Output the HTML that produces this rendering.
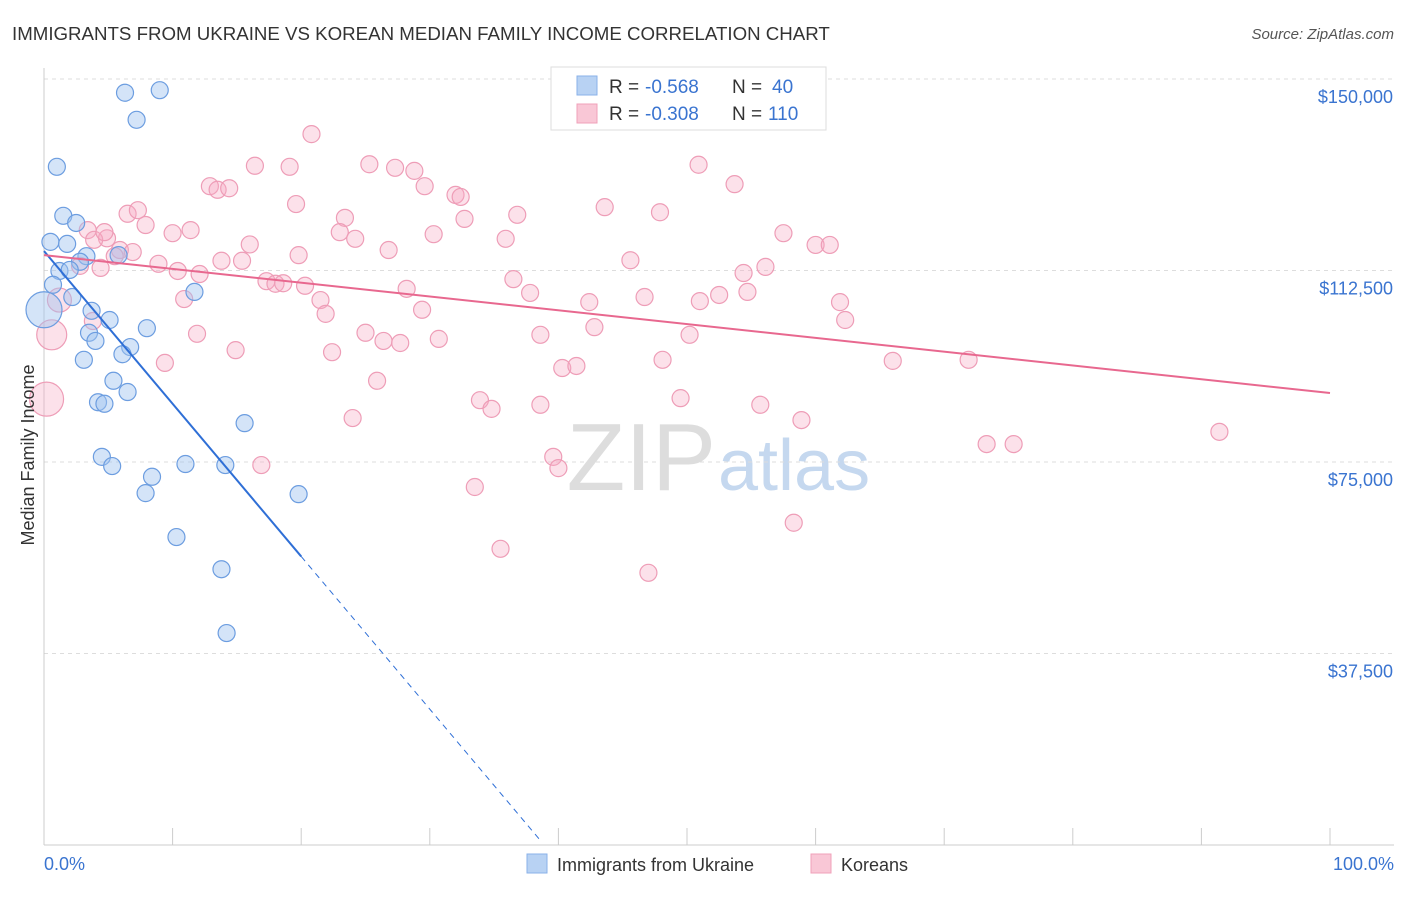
<!DOCTYPE html>
<html><head><meta charset="utf-8"><style>
body{margin:0;background:#fff;font-family:"Liberation Sans",sans-serif;}
svg text{font-family:"Liberation Sans",sans-serif;}
</style></head><body>
<svg id="chart" width="1406" height="892" viewBox="0 0 1406 892">
<text x="12" y="40" font-size="18.7" fill="#333">IMMIGRANTS FROM UKRAINE VS KOREAN MEDIAN FAMILY INCOME CORRELATION CHART</text>
<text x="1394" y="39" font-size="15" fill="#555" text-anchor="end" font-style="italic">Source: ZipAtlas.com</text>
<text x="716" y="490" font-size="96" fill="#ddd" text-anchor="end" font-family="Liberation Serif">ZIP</text>
<text x="718" y="490" font-size="72" fill="#c5d8ef">atlas</text>
<g id="grid"></g><g id="axes"></g><g id="pts"></g><g id="trend"></g>
<text transform="translate(34,455) rotate(-90)" font-size="18" fill="#333" text-anchor="middle">Median Family Income</text>
<text x="44" y="870" font-size="18" fill="#3a74d0">0.0%</text>
<text x="1394" y="870" font-size="18" fill="#3a74d0" text-anchor="end">100.0%</text>
<g>
<rect x="551" y="67" width="275" height="63" fill="#fff" stroke="#ddd"/>
<rect x="577" y="76" width="20" height="19" fill="#b8d2f3" stroke="#8ab1e8"/>
<rect x="577" y="104" width="20" height="19" fill="#f9c7d6" stroke="#f0a0b9"/>
<text x="609" y="93" font-size="19" fill="#333">R =</text>
<text x="645" y="93" font-size="19" fill="#3a74d0">-0.568</text>
<text x="732" y="93" font-size="19" fill="#333">N =</text>
<text x="772" y="93" font-size="19" fill="#3a74d0">40</text>
<text x="609" y="120" font-size="19" fill="#333">R =</text>
<text x="645" y="120" font-size="19" fill="#3a74d0">-0.308</text>
<text x="732" y="120" font-size="19" fill="#333">N =</text>
<text x="768" y="120" font-size="19" fill="#3a74d0">110</text>
</g>
<g>
<rect x="527" y="854" width="20" height="19" fill="#b8d2f3" stroke="#8ab1e8"/>
<text x="557" y="871" font-size="18" fill="#333">Immigrants from Ukraine</text>
<rect x="811" y="854" width="20" height="19" fill="#f9c7d6" stroke="#f0a0b9"/>
<text x="841" y="871" font-size="18" fill="#333">Koreans</text>
</g>
</svg>
<script>
const yTicks=[37500,75000,112500,150000];
const yTickLabels=["$37,500","$75,000","$112,500","$150,000"];
const xTicks=[0,10,20,30,40,50,60,70,80,90,100];
const blueX=[1.0,6.3,9.0,7.2,1.5,2.5,0.5,1.8,3.3,2.8,5.8,1.2,2.0,0.7,2.2,11.7,3.7,5.1,8.0,3.5,4.0,6.7,6.1,3.1,5.4,6.5,4.2,4.7,15.6,4.5,5.3,8.4,11.0,14.1,7.9,19.8,10.3,13.8,14.2,0.0];
const blueY=[132.8,147.3,147.8,142.0,123.2,121.8,118.1,117.7,115.3,114.2,115.5,112.4,112.6,109.7,107.3,108.3,104.6,102.8,101.2,100.3,98.7,97.5,96.1,95.0,90.9,88.7,86.7,86.4,82.6,76.0,74.2,72.1,74.6,74.4,68.9,68.7,60.3,54.0,41.5,104.8];
const blueR=[8.5,8.5,8.5,8.5,8.5,8.5,8.5,8.5,8.5,8.5,8.5,8.5,8.5,8.5,8.5,8.5,8.5,8.5,8.5,8.5,8.5,8.5,8.5,8.5,8.5,8.5,8.5,8.5,8.5,8.5,8.5,8.5,8.5,8.5,8.5,8.5,8.5,8.5,8.5,18];
const pinkX=[20.8,16.4,19.1,25.3,27.3,28.8,50.9,53.7,12.9,13.5,14.4,29.6,32.0,32.4,19.6,43.6,47.9,6.5,7.3,23.4,32.7,36.8,3.4,7.9,10.0,11.4,23.0,4.9,24.2,30.3,35.9,57.5,60.0,61.1,16.0,5.9,6.9,26.8,5.5,8.9,13.8,15.4,19.8,45.6,10.4,12.1,54.4,56.1,4.4,2.8,36.5,17.3,18.0,18.6,20.3,28.2,37.8,52.5,54.7,46.7,42.4,51.0,61.9,10.9,21.5,21.9,29.4,62.3,3.8,42.8,50.2,11.9,25.0,26.4,27.7,30.7,38.6,14.9,22.4,48.1,66.0,71.9,9.4,40.3,41.4,25.9,33.9,34.8,38.6,49.5,55.7,24.0,58.9,73.3,75.4,91.4,39.6,40.0,16.9,33.5,58.3,35.5,47.0,51.9,3.9,4.7,0.6,0.2,1.2];
const pinkY=[139.2,133.0,132.8,133.3,132.6,132.0,133.2,129.4,129.0,128.3,128.6,129.0,127.3,126.9,125.5,124.9,123.9,123.6,124.3,122.8,122.6,123.4,120.4,121.4,119.8,120.4,120.0,118.8,118.7,119.6,118.7,119.8,117.5,117.5,117.6,116.5,116.1,116.5,115.3,113.8,114.4,114.4,115.5,114.5,112.4,111.8,112.0,113.2,113.0,113.4,110.8,110.4,109.9,110.0,109.5,108.9,108.1,107.7,108.3,107.3,106.3,106.5,106.3,106.9,106.7,104.0,104.8,102.8,102.6,101.4,99.9,100.1,100.3,98.7,98.3,99.1,99.9,96.9,96.5,95.0,94.8,95.0,94.4,93.4,93.8,90.9,87.1,85.4,86.2,87.5,86.2,83.6,83.2,78.5,78.5,80.9,76.0,73.8,74.4,70.1,63.1,58.0,53.3,146.5,118.5,120.0,99.9,87.3,106.7];
const pinkR=pinkX.map((v,i)=>i>=pinkX.length-3?[15,17,12][i-(pinkX.length-3)]:8.5);
const blueTrend=[116.3,-2.99,20,38.6];
const pinkTrend=[115.5,-0.27];
const X0=44,X1=1330,YB=845,PX_PER_K=5.107;
const sx=v=>X0+(X1-X0)*v/100;
const sy=k=>YB-k*PX_PER_K;
const NS="http://www.w3.org/2000/svg";
function mk(tag,parent,attrs){const e=document.createElementNS(NS,tag);for(const k in attrs)e.setAttribute(k,attrs[k]);document.getElementById(parent).appendChild(e);return e;}
yTicks.forEach((t,i)=>{
 const l=mk('line','grid',{x1:44,x2:1394,y1:sy(t/1000),y2:sy(t/1000),stroke:'#ddd','stroke-dasharray':'4,4'});
 
 
 const tx=mk('text','grid',{x:1393,y:sy(t/1000)+24,'font-size':18,fill:'#3a74d0','text-anchor':'end'});
 tx.textContent=yTickLabels[i];
 
 
});
const tg=mk('line','grid',{x1:44,x2:1394,y1:79,y2:79,stroke:'#ddd','stroke-dasharray':'4,4'});


const ya=mk('line','axes',{x1:44,x2:44,y1:68,y2:845,stroke:'#ccc'});


const xa=mk('line','axes',{x1:44,x2:1394,y1:845,y2:845,stroke:'#ccc'});


xTicks.forEach(t=>{
 const l=mk('line','axes',{x1:sx(t),x2:sx(t),y1:828,y2:845,stroke:'#ccc'});
 
 
});
pinkX.forEach((v,i)=>{
 const c=mk('circle','pts',{cx:sx(v),cy:sy(pinkY[i]),r:pinkR[i],fill:'rgba(246,170,195,0.35)',stroke:'#ee9db7','stroke-width':1.2});
 
 
});
blueX.forEach((v,i)=>{
 const c=mk('circle','pts',{cx:sx(v),cy:sy(blueY[i]),r:blueR[i],fill:'rgba(160,195,240,0.45)',stroke:'#6c9de0','stroke-width':1.2});
 
 
});
const bt=k=>blueTrend[0]+blueTrend[1]*k;
const b1=mk('line','trend',{x1:sx(0),y1:sy(bt(0)),x2:sx(blueTrend[2]),y2:sy(bt(blueTrend[2])),stroke:'#2f6fd6','stroke-width':2});


const b2=mk('line','trend',{x1:sx(blueTrend[2]),y1:sy(bt(blueTrend[2])),x2:sx(blueTrend[3]),y2:sy(bt(blueTrend[3])),stroke:'#2f6fd6','stroke-width':1,'stroke-dasharray':'6,5'});


const p1=mk('line','trend',{x1:sx(0),y1:sy(pinkTrend[0]),x2:sx(100),y2:sy(pinkTrend[0]+pinkTrend[1]*100),stroke:'#e8688f','stroke-width':2});


</script>
</body></html>
